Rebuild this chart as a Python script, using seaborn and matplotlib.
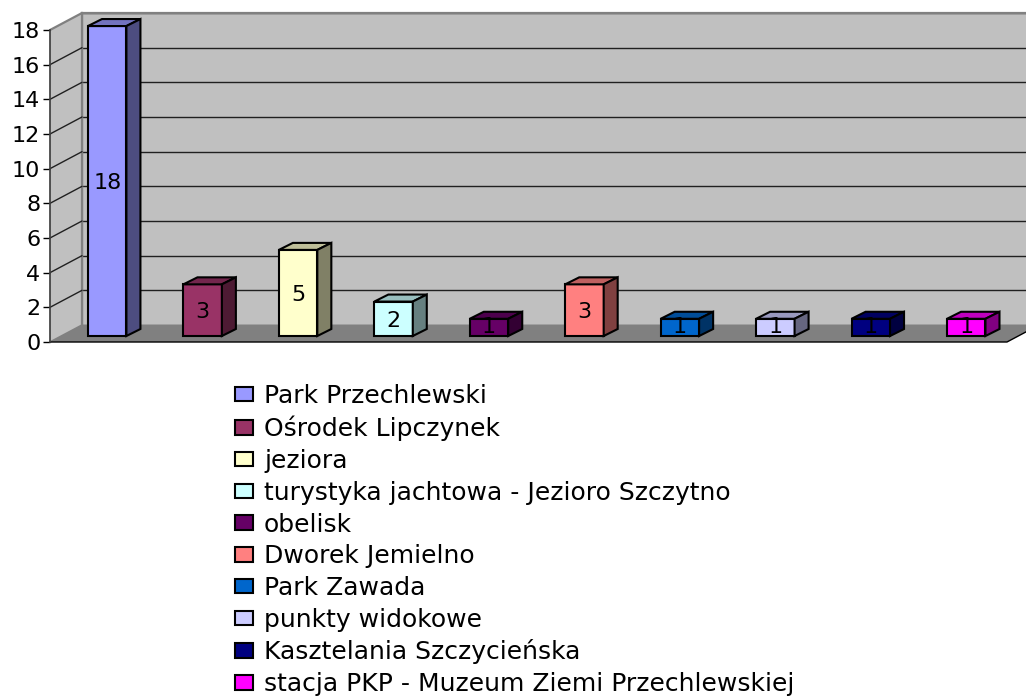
import matplotlib
matplotlib.use("Agg")
import matplotlib.pyplot as plt
import seaborn as sns
from matplotlib.colors import to_rgb
from matplotlib.patches import Patch, Polygon

W, H = 1026, 698

# Chart data
places = ["Park Przechlewski", "Ośrodek Lipczynek", "jeziora",
          "turystyka jachtowa - Jezioro Szczytno", "obelisk", "Dworek Jemielno",
          "Park Zawada", "punkty widokowe", "Kasztelania Szczycieńska",
          "stacja PKP - Muzeum Ziemi Przechlewskiej"]
visits = [18, 3, 5, 2, 1, 3, 1, 1, 1, 1]
bar_colors = ["#9999FF", "#993366", "#FFFFCC", "#CCFFFF", "#660066",
              "#FF8080", "#0066CC", "#CCCCFF", "#000080", "#FF00FF"]
y_ticks = [0, 2, 4, 6, 8, 10, 12, 14, 16, 18]


def pixel_axes(fig, left, top, right, bottom, zorder):
    """Axes placed by its pixel box, counted from the top left of the image."""
    ax = fig.add_axes([left / W, 1 - bottom / H, (right - left) / W, (bottom - top) / H])
    ax.set_zorder(zorder)
    return ax


def shade(color, factor):
    return tuple(c * factor for c in to_rgb(color))


sns.set_theme(style="white")
plt.rcParams["font.family"] = ["DejaVu Sans"]

fig = plt.figure(figsize=(W / 100, H / 100), dpi=100, facecolor="white")

# Back wall with the gridlines
wall = pixel_axes(fig, 82, 13, 1039, 325, 1)
wall.set_facecolor("#C0C0C0")
wall.set_ylim(0, 18)
wall.set_xticks([])
wall.set_yticks(y_ticks)
wall.tick_params(left=False, labelleft=False)
wall.grid(axis="y", color="#202020", lw=1)
for side in ["right", "bottom"]:
    wall.spines[side].set_visible(False)
for side in ["left", "top"]:
    wall.spines[side].set_color("#808080")
    wall.spines[side].set_linewidth(1.6)

# Side wall and floor, in image pixels
room = pixel_axes(fig, 0, 0, W, H, 2)
room.set_xlim(0, W)
room.set_ylim(H, 0)
room.axis("off")
room.add_patch(Polygon([(50, 30), (82, 13), (82, 325), (50, 342)], fc="#C0C0C0", ec="none"))
room.add_patch(Polygon([(50, 342), (82, 325), (1039, 325), (1007, 342)], fc="#808080", ec="none"))
room.plot([50, 82], [30, 13], color="#808080", lw=1.6)
room.plot([82, 82], [13, 325], color="#808080", lw=1.6)
room.plot([50, 82], [342, 325], color="#808080", lw=1.2)
room.plot([50, 1007, 1039], [342, 342, 325], color="black", lw=1)
for value in y_ticks[1:-1]:
    y = 342 - value * 312 / 18
    room.plot([50, 82], [y, y - 17], color="#202020", lw=1)

# Front axis with the tick labels
front = pixel_axes(fig, 50, 30, 60, 342, 3)
front.patch.set_alpha(0)
front.set_ylim(0, 18)
front.set_xticks([])
front.set_yticks(y_ticks)
front.tick_params(axis="y", length=5, width=1, color="black", labelsize=16, pad=2,
                  labelcolor="black", left=True)
for side in ["right", "top", "bottom"]:
    front.spines[side].set_visible(False)
front.spines["left"].set_color("#404040")

# Bars; the axes covers the whole image so its scale matches the pixel layout
x_step = 95.45
y_step = 17.22
bars = pixel_axes(fig, 0, 0, W, H, 4)
bars.patch.set_alpha(0)
sns.barplot(x=places, y=visits, hue=places, palette=bar_colors, width=0.403,
            saturation=1, edgecolor="black", linewidth=1.5, ax=bars)
bars.set_xlim(-107.2 / x_step, (W - 107.2) / x_step)
bars.set_ylim((336 - H) / y_step, 336 / y_step)
bars.set_xticks([])
bars.set_yticks([])
bars.set_xlabel("")
bars.set_ylabel("")
for spine in bars.spines.values():
    spine.set_visible(False)

depth_x = 14 / x_step
depth_y = 7 / y_step
for container, color, visit in zip(bars.containers, bar_colors, visits):
    for patch in container:
        x0 = patch.get_x()
        x1 = x0 + patch.get_width()
        top = patch.get_height()
        if not top == top:
            continue
        bars.add_patch(Polygon([(x0, top), (x1, top), (x1 + depth_x, top + depth_y),
                                (x0 + depth_x, top + depth_y)],
                               fc=shade(color, 0.75), ec="black", lw=1.5))
        bars.add_patch(Polygon([(x1, 0), (x1, top), (x1 + depth_x, top + depth_y),
                                (x1 + depth_x, depth_y)],
                               fc=shade(color, 0.5), ec="black", lw=1.5))
    # the short bars have no room to push the number down
    bars.bar_label(container, label_type="center", fontsize=16, color="black",
                   padding=0 if visit == 1 else -1.5)

# Legend in one column below the chart
handles = [Patch(facecolor=c, edgecolor="black", linewidth=1.5, label=p)
           for p, c in zip(places, bar_colors)]
bars.legend(handles=handles, loc="upper left", bbox_to_anchor=(235 / W, 1 - 384 / H),
            bbox_transform=fig.transFigure, frameon=False, fontsize=18,
            ncol=1, borderpad=0, borderaxespad=0, handlelength=0.72,
            handleheight=0.52, handletextpad=0.44, labelspacing=0.31,
            labelcolor="black")

fig.savefig("out.png", dpi=100)
